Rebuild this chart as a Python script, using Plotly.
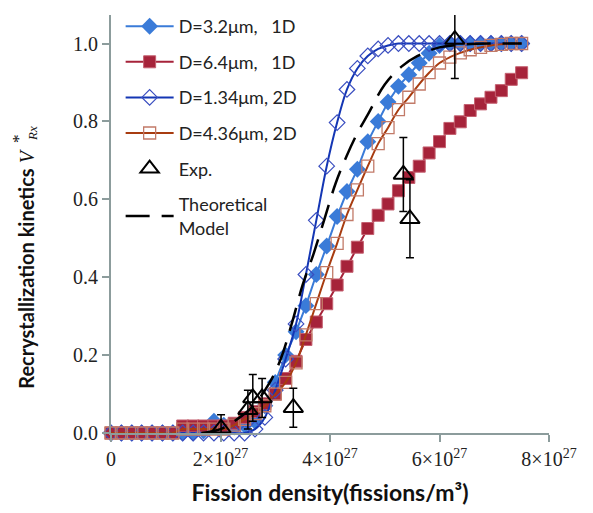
import plotly.graph_objects as go

# x positions (units of 1e27 fissions/m^3)
x_sim = [0.0, 0.19, 0.38, 0.56, 0.75, 0.94, 1.13, 1.31, 1.5, 1.69, 1.88, 2.06, 2.25, 2.44,
         2.63, 2.81, 3.0, 3.19, 3.38, 3.56, 3.75, 3.94, 4.13, 4.31, 4.5, 4.69, 4.88, 5.06,
         5.25, 5.44, 5.63, 5.81, 6.0, 6.19, 6.38, 6.56, 6.75, 6.94, 7.13, 7.31, 7.5]

d32_1d = [0, 0, 0, 0, 0, 0, 0, 0, 0, 0.005, 0.03, 0.02, 0.015, 0.02, 0.03, 0.07, 0.13, 0.2,
          0.26, 0.327, 0.407, 0.48, 0.556, 0.62, 0.677, 0.748, 0.80, 0.85, 0.89, 0.92, 0.95,
          0.975, 0.995, 1.0, 1.0, 1.0, 1.0, 1.0, 1.0, 1.0, 1.0]

d64_1d = [0, 0, 0, 0, 0, 0, 0, 0.018, 0.018, 0.018, 0.018, 0.018, 0.025, 0.04, 0.055, 0.075,
          0.10, 0.14, 0.184, 0.24, 0.285, 0.332, 0.38, 0.428, 0.477, 0.525, 0.559, 0.588,
          0.622, 0.656, 0.685, 0.719, 0.748, 0.782, 0.799, 0.828, 0.845, 0.862, 0.879, 0.908, 0.925]

d134_2d = [0, 0, 0, 0, 0, 0, 0, 0, 0, 0, 0, 0, 0, 0, 0.01, 0.04, 0.11, 0.19, 0.28, 0.407,
           0.546, 0.685, 0.797, 0.882, 0.936, 0.968, 0.986, 0.995, 1.0, 1.0, 1.0, 1.0, 1.0,
           1.0, 1.0, 1.0, 1.0, 1.0, 1.0, 1.0, 1.0]

d436_2d = [0, 0, 0, 0, 0, 0, 0, 0.01, 0.01, 0.01, 0.01, 0.01, 0.02, 0.035, 0.05, 0.07, 0.10,
           0.13, 0.18, 0.252, 0.332, 0.412, 0.487, 0.561, 0.624, 0.685, 0.743, 0.784, 0.83,
           0.862, 0.896, 0.925, 0.95, 0.965, 0.976, 0.984, 0.99, 0.995, 0.998, 1.0, 1.0]

x_exp = [2.01, 2.50, 2.59, 2.76, 3.33, 5.34, 5.46, 6.28]
y_exp = [0.012, 0.06, 0.09, 0.09, 0.065, 0.664, 0.55, 1.01]
err_exp = [0.035, 0.05, 0.06, 0.05, 0.05, 0.095, 0.10, 0.10]

x_th = [1.65, 2.0, 2.3, 2.6, 2.9, 3.1, 3.3, 3.5, 3.7, 3.9, 4.1, 4.3, 4.5, 4.7, 5.0, 5.3,
        5.6, 6.0, 6.5, 7.0, 7.5]
y_th = [0.0, 0.01, 0.035, 0.07, 0.13, 0.19, 0.28, 0.38, 0.46, 0.55, 0.64, 0.71, 0.77, 0.82,
        0.895, 0.94, 0.968, 0.99, 0.998, 1.0, 1.0]

x_tickvals = [0, 2, 4, 6, 8]
x_ticktext = ["0", "2×10<sup>27</sup>", "4×10<sup>27</sup>", "6×10<sup>27</sup>", "8×10<sup>27</sup>"]
y_tickvals = [0.0, 0.2, 0.4, 0.6, 0.8, 1.0]
y_ticktext = ["0.0", "0.2", "0.4", "0.6", "0.8", "1.0"]

AXC = "#8c9c9c"
SANS = "Lato"
SERIF = "Liberation Serif"

fig = go.Figure()

fig.add_trace(go.Scatter(
    x=x_sim, y=d32_1d, mode="lines+markers", name="D=3.2μm,   1D", legendgroup="g1",
    line=dict(color="#3a7bd8", width=2),
    marker=dict(symbol="diamond", size=13, color="#3a7bd8", line=dict(width=0)),
    cliponaxis=False))
fig.add_trace(go.Scatter(
    x=x_sim, y=d64_1d, mode="lines+markers", name="D=6.4μm,   1D", legendgroup="g2",
    line=dict(color="#a6233a", width=2),
    marker=dict(symbol="square", size=12, color="#a6233a", line=dict(width=1, color="#c46070")),
    cliponaxis=False))
fig.add_trace(go.Scatter(
    x=x_sim, y=d134_2d, mode="lines+markers", name="D=1.34μm, 2D", legendgroup="g3",
    line=dict(color="#1436b4", width=2, shape="spline"),
    marker=dict(symbol="diamond-open", size=12, color="#3a4ec0", line=dict(width=1.2)),
    cliponaxis=False))
fig.add_trace(go.Scatter(
    x=x_sim, y=d436_2d, mode="lines+markers", name="D=4.36μm, 2D", legendgroup="g4",
    line=dict(color="#a83c10", width=2, shape="spline"),
    marker=dict(symbol="square-open", size=12, color="#c27a68", line=dict(width=1.3)),
    cliponaxis=False))
fig.add_trace(go.Scatter(
    x=x_exp, y=y_exp, mode="markers", name="Exp.", legendgroup="g5",
    marker=dict(symbol="triangle-up-open", size=17, color="black", line=dict(width=2)),
    error_y=dict(type="data", array=err_exp, color="black", thickness=1.5, width=4),
    cliponaxis=False))
fig.add_trace(go.Scatter(
    x=x_th, y=y_th, mode="lines", name="Theoretical<br>Model", legendgroup="g6",
    line=dict(color="black", width=2.5, dash="24px,12px", shape="spline"),
    cliponaxis=False))

# page has an 8px body margin: figure is 585x505 so that it fits the window
fig.update_layout(
    width=585, height=505,
    margin=dict(l=103, r=44, t=0, b=80),
    plot_bgcolor="white", paper_bgcolor="white",
    showlegend=True,
    legend=dict(x=0.022, y=1.017, xanchor="left", yanchor="top",
                font=dict(family=SANS, size=18, color="#222"),
                bgcolor="rgba(0,0,0,0)", tracegroupgap=9.2,
                traceorder="grouped", itemwidth=48),
    xaxis=dict(range=[0, 8], tickvals=x_tickvals, ticktext=x_ticktext, automargin=False,
               showline=True, linecolor=AXC, linewidth=2, ticks="outside",
               ticklen=7, tickwidth=2, tickcolor=AXC, showgrid=False, zeroline=False,
               tickfont=dict(family=SERIF, size=20, color="#222"),
               title=dict(text="<b>Fission density(fissions/m³)</b>",
                          font=dict(family=SANS, size=23, color="#111"), standoff=16)),
    yaxis=dict(range=[0, 1.0732], tickvals=y_tickvals, ticktext=y_ticktext, automargin=False,
               showline=True, linecolor=AXC, linewidth=2, ticks="outside",
               ticklen=7, tickwidth=2, tickcolor=AXC, showgrid=False, zeroline=False,
               tickfont=dict(family=SERIF, size=20, color="#222")),
)

def px(xs):
    return (xs - 8 - 103) / 438

def py(ys):
    return (425 - (ys - 8)) / 425

# y-axis title: main text plus stacked * / Rx (rotated)
fig.add_annotation(
    xref="paper", yref="paper", x=px(26), y=py(266),
    textangle=-90, showarrow=False, xanchor="center", yanchor="middle",
    text=("<b>Recrystallization kinetics</b> "
          "<span style='font-family:Liberation Serif'><i>V</i></span>"),
    font=dict(family=SANS, size=20, color="#111"))
fig.add_annotation(
    xref="paper", yref="paper", x=px(19), y=py(134),
    textangle=-90, showarrow=False, xanchor="center", yanchor="middle",
    text="*", font=dict(family=SERIF, size=17, color="#111"))
fig.add_annotation(
    xref="paper", yref="paper", x=px(32), y=py(129),
    textangle=-90, showarrow=False, xanchor="center", yanchor="middle",
    text="<i>Rx</i>", font=dict(family=SERIF, size=13, color="#111"))

fig.write_html("out.html")
